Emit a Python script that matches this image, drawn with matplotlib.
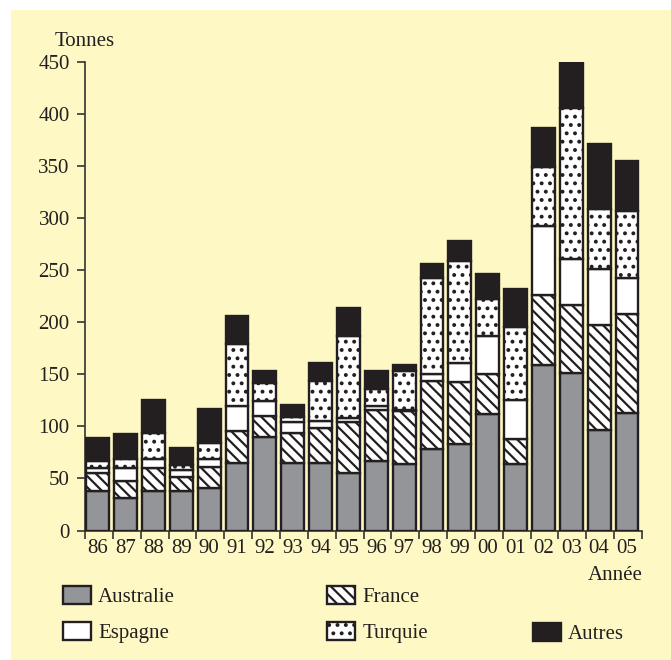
import matplotlib
matplotlib.use('Agg')
import matplotlib.pyplot as plt
import numpy as np
from matplotlib.patches import Rectangle

# tonnages par pays et par annee
annees = ['86', '87', '88', '89', '90', '91', '92', '93', '94', '95',
          '96', '97', '98', '99', '00', '01', '02', '03', '04', '05']
australie = [38, 31, 38, 38, 41, 65, 90, 65, 65, 55, 67, 64, 78, 83, 112, 64, 159, 151, 97, 113]
france = [17, 17, 22, 13, 20, 31, 20, 29, 33, 49, 49, 51, 66, 60, 38, 24, 67, 66, 100, 95]
espagne = [5, 12, 9, 7, 8, 24, 14, 10, 7, 4, 4, 1, 6, 18, 37, 37, 66, 44, 54, 35]
turquie = [7, 9, 25, 5, 15, 59, 18, 5, 39, 79, 16, 37, 93, 98, 35, 70, 57, 145, 58, 64]
autres = [22, 24, 31, 16, 33, 27, 11, 12, 17, 27, 17, 6, 13, 19, 24, 37, 38, 44, 62, 48]

noir = '#231f20'
fond = '#fef9c4'
fs = 15

plt.rcParams['font.family'] = ['Liberation Serif', 'DejaVu Serif']
plt.rcParams['font.size'] = fs
plt.rcParams['hatch.color'] = noir
plt.rcParams['hatch.linewidth'] = 1.6
plt.rcParams['text.color'] = noir

fig = plt.figure(figsize=(6.71, 6.6), dpi=100, facecolor='white')
# fond jaune (marge blanche en haut et a gauche)
fig.patches.append(Rectangle((11 / 671, 0), 1, 1 - 10 / 660, transform=fig.transFigure,
                             facecolor=fond, edgecolor='none', zorder=-10))

ax = fig.add_axes([85 / 671, 1 - 530.5 / 660, 557 / 671, 468.5 / 660])
ax.set_facecolor('none')

x = np.arange(len(annees)) + 0.46
w = 0.82
bas = np.zeros(len(annees))
series = [
    (australie, 'Australie', '#939598', ''),
    (france, 'France', 'white', '\\\\\\'),
    (espagne, 'Espagne', 'white', ''),
    (turquie, 'Turquie', 'white', '..'),
    (autres, 'Autres', noir, ''),
]
rects = {}
for vals, nom, coul, hach in series:
    r = ax.bar(x, vals, w, bottom=bas, color=coul, edgecolor=noir,
               linewidth=1.7, hatch=hach, label=nom, zorder=3)
    rects[nom] = r
    bas += np.array(vals)

ax.set_xlim(0, len(annees))
ax.set_ylim(0, 450)
ax.set_yticks(np.arange(0, 451, 50))
ax.set_xticks(np.arange(0, len(annees) + 1))
ax.set_xticklabels([])
ax.set_xticks(x, minor=True)
ax.set_xticklabels(annees, minor=True)
ax.tick_params(axis='x', which='major', length=6, width=1.2, color='#333333', direction='out')
ax.tick_params(axis='x', which='minor', length=0, pad=6, labelsize=fs, labelcolor=noir)
ax.tick_params(axis='y', length=6, width=1.2, color='#333333', pad=5, labelsize=fs, labelcolor=noir)
for s in ['top', 'right']:
    ax.spines[s].set_visible(False)
for s in ['left', 'bottom']:
    ax.spines[s].set_color('#333333')
    ax.spines[s].set_linewidth(1.2)

fig.text(85 / 671, 1 - 42 / 660, 'Tonnes', ha='center', va='center', fontsize=fs)
fig.text(643 / 671, 1 - 575 / 660, 'Année', ha='right', va='center', fontsize=fs)

# legende en trois colonnes
cols = [(['Australie', 'Espagne'], 63), (['France', 'Turquie'], 327), (['Autres'], 533)]
for i, (noms, px) in enumerate(cols):
    hs = [rects[n] for n in noms]
    py = 586 if i < 2 else 586 + 37
    fig.legend(hs, list(noms), loc='upper left', bbox_to_anchor=(px / 671, 1 - py / 660),
               frameon=False, borderpad=0, borderaxespad=0, handlelength=1.35,
               handleheight=0.92, handletextpad=0.34, labelspacing=0.72, fontsize=fs)

fig.savefig('out.png', dpi=100, facecolor='white')
